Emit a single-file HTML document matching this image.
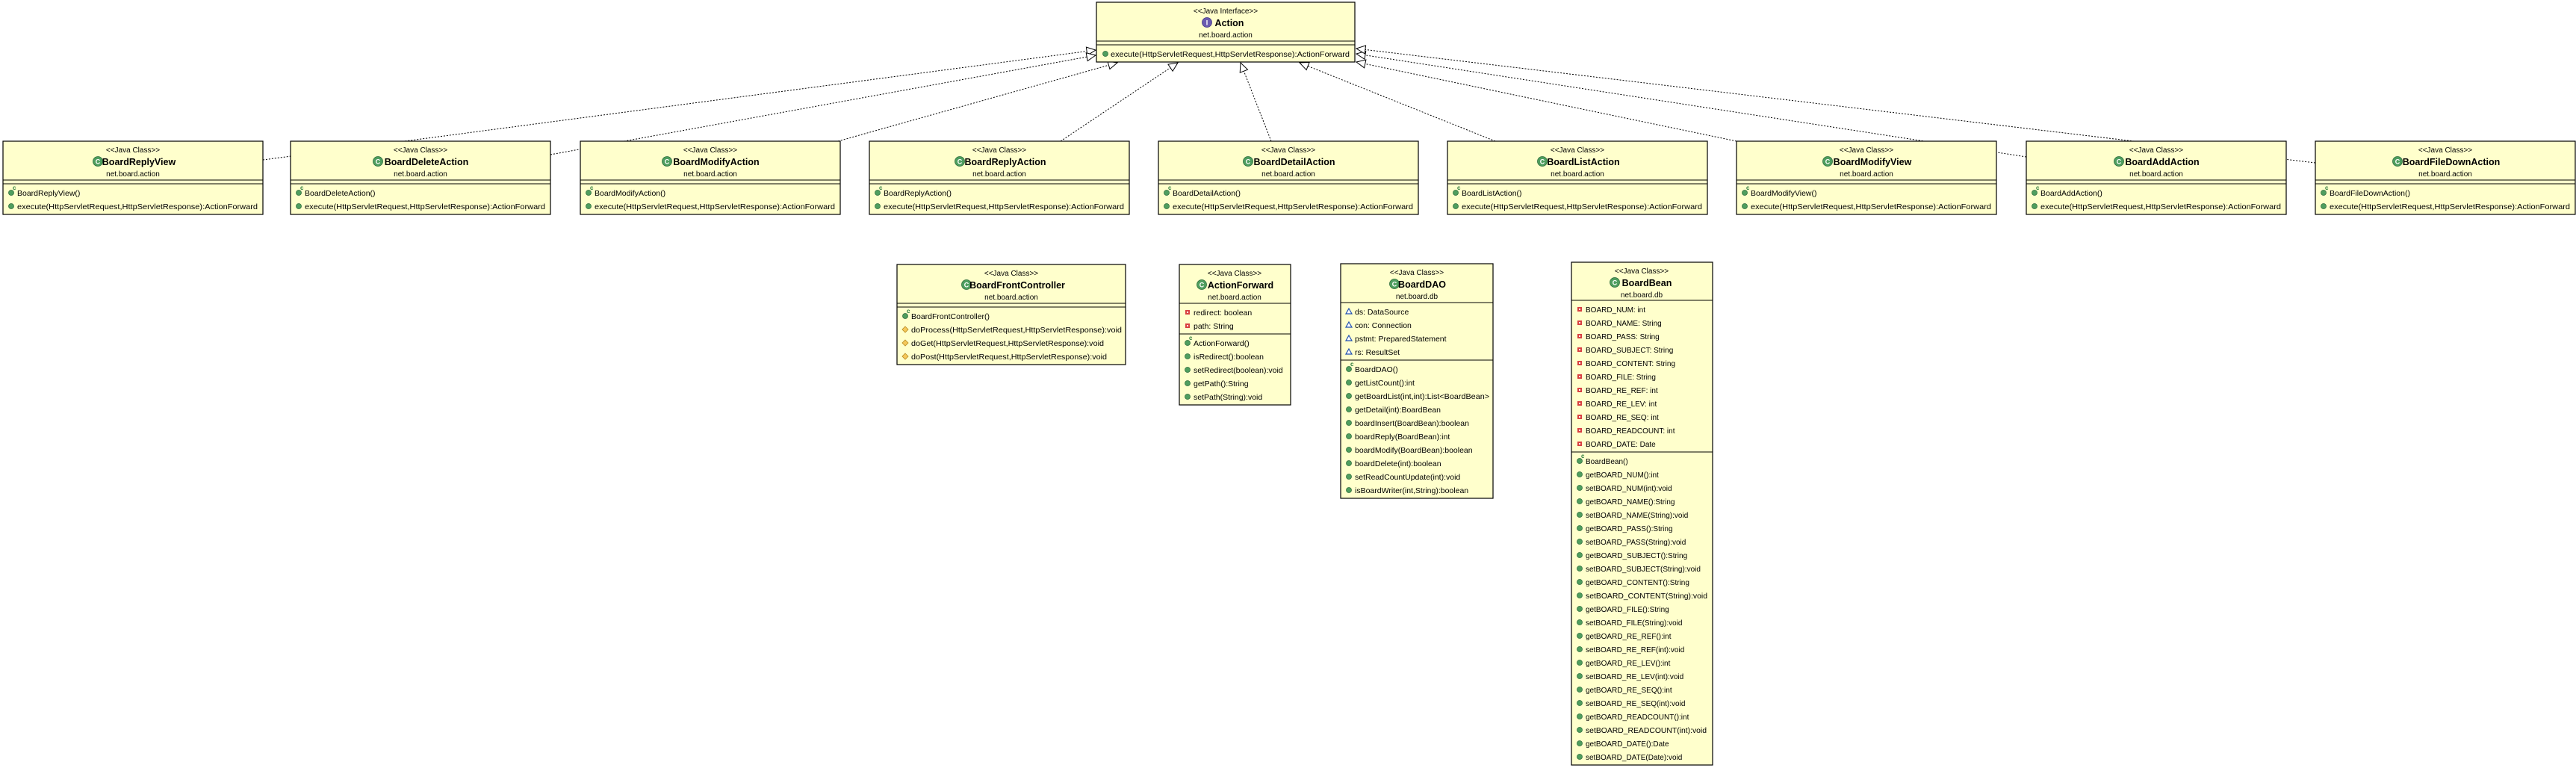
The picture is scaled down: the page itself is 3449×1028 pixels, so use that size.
<!DOCTYPE html>
<html><head><meta charset="utf-8"><style>
html,body{margin:0;padding:0;background:#fff}
svg{display:block}
text{font-family:"Liberation Sans",sans-serif;fill:#000}
.st{font-size:10px}
.nm{font-size:12.5px;font-weight:bold}
.pk{font-size:10px}
.mb{font-size:10.5px}
.bb .mb{font-size:10px}
.ci{font-size:9px;font-weight:bold;fill:#fff}
.cc{font-size:8px;font-weight:bold;fill:#2a7a3a}
.bx{fill:#FFFFCC;stroke:#000;stroke-width:1.2}
.ln{stroke:#000;stroke-width:1}
.dl{stroke:#000;stroke-width:1;stroke-dasharray:2,2;fill:none}
.pu{fill:#4f9e5f;stroke:#2e6e3c;stroke-width:.8}
</style></head><body>
<svg width="3449" height="1028" viewBox="0 0 3449 1028" xmlns="http://www.w3.org/2000/svg">
<defs>
<marker id="tri" markerUnits="userSpaceOnUse" markerWidth="14" markerHeight="14" refX="13" refY="6.5" orient="auto">
<path d="M1,1 L13,6.5 L1,12 Z" fill="#fff" stroke="#000" stroke-width="1"/>
</marker>
</defs>

<line class="dl" x1="352" y1="214" x2="1467" y2="67" marker-end="url(#tri)"/>
<line class="dl" x1="737" y1="207" x2="1467" y2="74" marker-end="url(#tri)"/>
<line class="dl" x1="1122" y1="189" x2="1496" y2="84" marker-end="url(#tri)"/>
<line class="dl" x1="1420" y1="189" x2="1577" y2="84" marker-end="url(#tri)"/>
<line class="dl" x1="1702" y1="189" x2="1661" y2="84" marker-end="url(#tri)"/>
<line class="dl" x1="2002" y1="189" x2="1740" y2="84" marker-end="url(#tri)"/>
<line class="dl" x1="2325" y1="189" x2="1816" y2="83" marker-end="url(#tri)"/>
<line class="dl" x1="2713" y1="210" x2="1816" y2="72" marker-end="url(#tri)"/>
<line class="dl" x1="3100" y1="218" x2="1816" y2="65" marker-end="url(#tri)"/>

<g transform="translate(1468,3)">
<rect class="bx" x="0" y="0" width="346" height="80"/>
<text class="st" x="173" y="15" text-anchor="middle">&lt;&lt;Java Interface&gt;&gt;</text>
<circle cx="148" cy="27" r="6.5" fill="#6a5bb0" stroke="#463a88" stroke-width=".8"/>
<text class="ci" x="148" y="30.5" text-anchor="middle">I</text>
<text class="nm" x="178" y="32" text-anchor="middle">Action</text>
<text class="pk" x="173" y="47" text-anchor="middle">net.board.action</text>
<line class="ln" x1="0" y1="52" x2="346" y2="52"/><line class="ln" x1="0" y1="57" x2="346" y2="57"/>
<circle class="pu" cx="12" cy="69" r="3.5"/>
<text class="mb" x="19" y="73" textLength="320" lengthAdjust="spacingAndGlyphs">execute(HttpServletRequest,HttpServletResponse):ActionForward</text>
</g>

<g transform="translate(4,189)">
<rect class="bx" width="348" height="98"/>
<text class="st" x="174" y="15" text-anchor="middle">&lt;&lt;Java Class&gt;&gt;</text>
<circle cx="127" cy="27" r="6.5" class="pu"/><text class="ci" x="127" y="30.5" text-anchor="middle">C</text>
<text class="nm" x="182" y="32" text-anchor="middle">BoardReplyView</text>
<text class="pk" x="174" y="47" text-anchor="middle">net.board.action</text>
<line class="ln" x1="0" y1="52" x2="348" y2="52"/><line class="ln" x1="0" y1="57" x2="348" y2="57"/>
<circle class="pu" cx="11" cy="69" r="3.5"/><text class="cc" x="13" y="65">c</text><text class="mb" x="19" y="73">BoardReplyView()</text>
<circle class="pu" cx="11" cy="87" r="3.5"/><text class="mb" x="19" y="91" textLength="322" lengthAdjust="spacingAndGlyphs">execute(HttpServletRequest,HttpServletResponse):ActionForward</text>
</g>
<g transform="translate(389,189)">
<rect class="bx" width="348" height="98"/>
<text class="st" x="174" y="15" text-anchor="middle">&lt;&lt;Java Class&gt;&gt;</text>
<circle cx="117" cy="27" r="6.5" class="pu"/><text class="ci" x="117" y="30.5" text-anchor="middle">C</text>
<text class="nm" x="182" y="32" text-anchor="middle">BoardDeleteAction</text>
<text class="pk" x="174" y="47" text-anchor="middle">net.board.action</text>
<line class="ln" x1="0" y1="52" x2="348" y2="52"/><line class="ln" x1="0" y1="57" x2="348" y2="57"/>
<circle class="pu" cx="11" cy="69" r="3.5"/><text class="cc" x="13" y="65">c</text><text class="mb" x="19" y="73">BoardDeleteAction()</text>
<circle class="pu" cx="11" cy="87" r="3.5"/><text class="mb" x="19" y="91" textLength="322" lengthAdjust="spacingAndGlyphs">execute(HttpServletRequest,HttpServletResponse):ActionForward</text>
</g>
<g transform="translate(777,189)">
<rect class="bx" width="348" height="98"/>
<text class="st" x="174" y="15" text-anchor="middle">&lt;&lt;Java Class&gt;&gt;</text>
<circle cx="116" cy="27" r="6.5" class="pu"/><text class="ci" x="116" y="30.5" text-anchor="middle">C</text>
<text class="nm" x="182" y="32" text-anchor="middle">BoardModifyAction</text>
<text class="pk" x="174" y="47" text-anchor="middle">net.board.action</text>
<line class="ln" x1="0" y1="52" x2="348" y2="52"/><line class="ln" x1="0" y1="57" x2="348" y2="57"/>
<circle class="pu" cx="11" cy="69" r="3.5"/><text class="cc" x="13" y="65">c</text><text class="mb" x="19" y="73">BoardModifyAction()</text>
<circle class="pu" cx="11" cy="87" r="3.5"/><text class="mb" x="19" y="91" textLength="322" lengthAdjust="spacingAndGlyphs">execute(HttpServletRequest,HttpServletResponse):ActionForward</text>
</g>
<g transform="translate(1164,189)">
<rect class="bx" width="348" height="98"/>
<text class="st" x="174" y="15" text-anchor="middle">&lt;&lt;Java Class&gt;&gt;</text>
<circle cx="121" cy="27" r="6.5" class="pu"/><text class="ci" x="121" y="30.5" text-anchor="middle">C</text>
<text class="nm" x="182" y="32" text-anchor="middle">BoardReplyAction</text>
<text class="pk" x="174" y="47" text-anchor="middle">net.board.action</text>
<line class="ln" x1="0" y1="52" x2="348" y2="52"/><line class="ln" x1="0" y1="57" x2="348" y2="57"/>
<circle class="pu" cx="11" cy="69" r="3.5"/><text class="cc" x="13" y="65">c</text><text class="mb" x="19" y="73">BoardReplyAction()</text>
<circle class="pu" cx="11" cy="87" r="3.5"/><text class="mb" x="19" y="91" textLength="322" lengthAdjust="spacingAndGlyphs">execute(HttpServletRequest,HttpServletResponse):ActionForward</text>
</g>
<g transform="translate(1551,189)">
<rect class="bx" width="348" height="98"/>
<text class="st" x="174" y="15" text-anchor="middle">&lt;&lt;Java Class&gt;&gt;</text>
<circle cx="120" cy="27" r="6.5" class="pu"/><text class="ci" x="120" y="30.5" text-anchor="middle">C</text>
<text class="nm" x="182" y="32" text-anchor="middle">BoardDetailAction</text>
<text class="pk" x="174" y="47" text-anchor="middle">net.board.action</text>
<line class="ln" x1="0" y1="52" x2="348" y2="52"/><line class="ln" x1="0" y1="57" x2="348" y2="57"/>
<circle class="pu" cx="11" cy="69" r="3.5"/><text class="cc" x="13" y="65">c</text><text class="mb" x="19" y="73">BoardDetailAction()</text>
<circle class="pu" cx="11" cy="87" r="3.5"/><text class="mb" x="19" y="91" textLength="322" lengthAdjust="spacingAndGlyphs">execute(HttpServletRequest,HttpServletResponse):ActionForward</text>
</g>
<g transform="translate(1938,189)">
<rect class="bx" width="348" height="98"/>
<text class="st" x="174" y="15" text-anchor="middle">&lt;&lt;Java Class&gt;&gt;</text>
<circle cx="127" cy="27" r="6.5" class="pu"/><text class="ci" x="127" y="30.5" text-anchor="middle">C</text>
<text class="nm" x="182" y="32" text-anchor="middle">BoardListAction</text>
<text class="pk" x="174" y="47" text-anchor="middle">net.board.action</text>
<line class="ln" x1="0" y1="52" x2="348" y2="52"/><line class="ln" x1="0" y1="57" x2="348" y2="57"/>
<circle class="pu" cx="11" cy="69" r="3.5"/><text class="cc" x="13" y="65">c</text><text class="mb" x="19" y="73">BoardListAction()</text>
<circle class="pu" cx="11" cy="87" r="3.5"/><text class="mb" x="19" y="91" textLength="322" lengthAdjust="spacingAndGlyphs">execute(HttpServletRequest,HttpServletResponse):ActionForward</text>
</g>
<g transform="translate(2325,189)">
<rect class="bx" width="348" height="98"/>
<text class="st" x="174" y="15" text-anchor="middle">&lt;&lt;Java Class&gt;&gt;</text>
<circle cx="122" cy="27" r="6.5" class="pu"/><text class="ci" x="122" y="30.5" text-anchor="middle">C</text>
<text class="nm" x="182" y="32" text-anchor="middle">BoardModifyView</text>
<text class="pk" x="174" y="47" text-anchor="middle">net.board.action</text>
<line class="ln" x1="0" y1="52" x2="348" y2="52"/><line class="ln" x1="0" y1="57" x2="348" y2="57"/>
<circle class="pu" cx="11" cy="69" r="3.5"/><text class="cc" x="13" y="65">c</text><text class="mb" x="19" y="73">BoardModifyView()</text>
<circle class="pu" cx="11" cy="87" r="3.5"/><text class="mb" x="19" y="91" textLength="322" lengthAdjust="spacingAndGlyphs">execute(HttpServletRequest,HttpServletResponse):ActionForward</text>
</g>
<g transform="translate(2713,189)">
<rect class="bx" width="348" height="98"/>
<text class="st" x="174" y="15" text-anchor="middle">&lt;&lt;Java Class&gt;&gt;</text>
<circle cx="124" cy="27" r="6.5" class="pu"/><text class="ci" x="124" y="30.5" text-anchor="middle">C</text>
<text class="nm" x="182" y="32" text-anchor="middle">BoardAddAction</text>
<text class="pk" x="174" y="47" text-anchor="middle">net.board.action</text>
<line class="ln" x1="0" y1="52" x2="348" y2="52"/><line class="ln" x1="0" y1="57" x2="348" y2="57"/>
<circle class="pu" cx="11" cy="69" r="3.5"/><text class="cc" x="13" y="65">c</text><text class="mb" x="19" y="73">BoardAddAction()</text>
<circle class="pu" cx="11" cy="87" r="3.5"/><text class="mb" x="19" y="91" textLength="322" lengthAdjust="spacingAndGlyphs">execute(HttpServletRequest,HttpServletResponse):ActionForward</text>
</g>
<g transform="translate(3100,189)">
<rect class="bx" width="348" height="98"/>
<text class="st" x="174" y="15" text-anchor="middle">&lt;&lt;Java Class&gt;&gt;</text>
<circle cx="110" cy="27" r="6.5" class="pu"/><text class="ci" x="110" y="30.5" text-anchor="middle">C</text>
<text class="nm" x="182" y="32" text-anchor="middle">BoardFileDownAction</text>
<text class="pk" x="174" y="47" text-anchor="middle">net.board.action</text>
<line class="ln" x1="0" y1="52" x2="348" y2="52"/><line class="ln" x1="0" y1="57" x2="348" y2="57"/>
<circle class="pu" cx="11" cy="69" r="3.5"/><text class="cc" x="13" y="65">c</text><text class="mb" x="19" y="73">BoardFileDownAction()</text>
<circle class="pu" cx="11" cy="87" r="3.5"/><text class="mb" x="19" y="91" textLength="322" lengthAdjust="spacingAndGlyphs">execute(HttpServletRequest,HttpServletResponse):ActionForward</text>
</g>

<g transform="translate(1201,354)">
<rect class="bx" width="306" height="134"/>
<text class="st" x="153" y="15" text-anchor="middle">&lt;&lt;Java Class&gt;&gt;</text>
<circle cx="93" cy="27" r="6.5" class="pu"/><text class="ci" x="93" y="30.5" text-anchor="middle">C</text>
<text class="nm" x="161" y="32" text-anchor="middle">BoardFrontController</text>
<text class="pk" x="153" y="47" text-anchor="middle">net.board.action</text>
<line class="ln" x1="0" y1="52" x2="306" y2="52"/><line class="ln" x1="0" y1="57" x2="306" y2="57"/>
<circle class="pu" cx="11" cy="69" r="3.5"/><text class="cc" x="13" y="65">c</text><text class="mb" x="19" y="73">BoardFrontController()</text>
<path d="M11,83 L15,87 L11,91 L7,87 Z" fill="#f5c85a" stroke="#b88a20" stroke-width=".8"/><text class="mb" x="19" y="91" textLength="282" lengthAdjust="spacingAndGlyphs">doProcess(HttpServletRequest,HttpServletResponse):void</text>
<path d="M11,101 L15,105 L11,109 L7,105 Z" fill="#f5c85a" stroke="#b88a20" stroke-width=".8"/><text class="mb" x="19" y="109" textLength="258" lengthAdjust="spacingAndGlyphs">doGet(HttpServletRequest,HttpServletResponse):void</text>
<path d="M11,119 L15,123 L11,127 L7,123 Z" fill="#f5c85a" stroke="#b88a20" stroke-width=".8"/><text class="mb" x="19" y="127" textLength="262" lengthAdjust="spacingAndGlyphs">doPost(HttpServletRequest,HttpServletResponse):void</text>
</g>

<g transform="translate(1579,354)">
<rect class="bx" width="149" height="188"/>
<text class="st" x="74" y="15" text-anchor="middle">&lt;&lt;Java Class&gt;&gt;</text>
<circle cx="30" cy="27" r="6.5" class="pu"/><text class="ci" x="30" y="30.5" text-anchor="middle">C</text>
<text class="nm" x="82" y="32" text-anchor="middle">ActionForward</text>
<text class="pk" x="74" y="47" text-anchor="middle">net.board.action</text>
<line class="ln" x1="0" y1="52" x2="149" y2="52"/>
<rect x="8" y="61" width="6" height="6" fill="#d84040"/><rect x="10" y="63" width="2" height="2" fill="#fff"/><text class="mb" x="19" y="68">redirect: boolean</text>
<rect x="8" y="79" width="6" height="6" fill="#d84040"/><rect x="10" y="81" width="2" height="2" fill="#fff"/><text class="mb" x="19" y="86">path: String</text>
<line class="ln" x1="0" y1="93" x2="149" y2="93"/>
<circle class="pu" cx="11" cy="105" r="3.5"/><text class="cc" x="13" y="101">c</text><text class="mb" x="19" y="109">ActionForward()</text>
<circle class="pu" cx="11" cy="123" r="3.5"/><text class="mb" x="19" y="127">isRedirect():boolean</text>
<circle class="pu" cx="11" cy="141" r="3.5"/><text class="mb" x="19" y="145">setRedirect(boolean):void</text>
<circle class="pu" cx="11" cy="159" r="3.5"/><text class="mb" x="19" y="163">getPath():String</text>
<circle class="pu" cx="11" cy="177" r="3.5"/><text class="mb" x="19" y="181">setPath(String):void</text>
</g>

<g transform="translate(1795,353)">
<rect class="bx" width="204" height="314"/>
<text class="st" x="102" y="15" text-anchor="middle">&lt;&lt;Java Class&gt;&gt;</text>
<circle cx="72" cy="27" r="6.5" class="pu"/><text class="ci" x="72" y="30.5" text-anchor="middle">C</text>
<text class="nm" x="109" y="32" text-anchor="middle">BoardDAO</text>
<text class="pk" x="102" y="47" text-anchor="middle">net.board.db</text>
<line class="ln" x1="0" y1="52" x2="204" y2="52"/>
<path d="M11,60 L15,67 L7,67 Z" fill="#fff" stroke="#2050b0" stroke-width="1.2"/><text class="mb" x="19" y="68">ds: DataSource</text>
<path d="M11,78 L15,85 L7,85 Z" fill="#fff" stroke="#2050b0" stroke-width="1.2"/><text class="mb" x="19" y="86">con: Connection</text>
<path d="M11,96 L15,103 L7,103 Z" fill="#fff" stroke="#2050b0" stroke-width="1.2"/><text class="mb" x="19" y="104">pstmt: PreparedStatement</text>
<path d="M11,114 L15,121 L7,121 Z" fill="#fff" stroke="#2050b0" stroke-width="1.2"/><text class="mb" x="19" y="122">rs: ResultSet</text>
<line class="ln" x1="0" y1="129" x2="204" y2="129"/>
<circle class="pu" cx="11" cy="141" r="3.5"/><text class="cc" x="13" y="137">c</text><text class="mb" x="19" y="145">BoardDAO()</text>
<circle class="pu" cx="11" cy="159" r="3.5"/><text class="mb" x="19" y="163">getListCount():int</text>
<circle class="pu" cx="11" cy="177" r="3.5"/><text class="mb" x="19" y="181" textLength="180" lengthAdjust="spacingAndGlyphs">getBoardList(int,int):List&lt;BoardBean&gt;</text>
<circle class="pu" cx="11" cy="195" r="3.5"/><text class="mb" x="19" y="199">getDetail(int):BoardBean</text>
<circle class="pu" cx="11" cy="213" r="3.5"/><text class="mb" x="19" y="217">boardInsert(BoardBean):boolean</text>
<circle class="pu" cx="11" cy="231" r="3.5"/><text class="mb" x="19" y="235">boardReply(BoardBean):int</text>
<circle class="pu" cx="11" cy="249" r="3.5"/><text class="mb" x="19" y="253">boardModify(BoardBean):boolean</text>
<circle class="pu" cx="11" cy="267" r="3.5"/><text class="mb" x="19" y="271">boardDelete(int):boolean</text>
<circle class="pu" cx="11" cy="285" r="3.5"/><text class="mb" x="19" y="289">setReadCountUpdate(int):void</text>
<circle class="pu" cx="11" cy="303" r="3.5"/><text class="mb" x="19" y="307">isBoardWriter(int,String):boolean</text>
</g>

<g class="bb" transform="translate(2104,351)">
<rect class="bx" width="189" height="673"/>
<text class="st" x="94" y="15" text-anchor="middle">&lt;&lt;Java Class&gt;&gt;</text>
<circle cx="58" cy="27" r="6.5" class="pu"/><text class="ci" x="58" y="30.5" text-anchor="middle">C</text>
<text class="nm" x="101" y="32" text-anchor="middle">BoardBean</text>
<text class="pk" x="94" y="47" text-anchor="middle">net.board.db</text>
<line class="ln" x1="0" y1="51" x2="189" y2="51"/>
<rect x="8" y="60" width="6" height="6" fill="#d84040"/><rect x="10" y="62" width="2" height="2" fill="#fff"/><text class="mb" x="19" y="67">BOARD_NUM: int</text>
<rect x="8" y="78" width="6" height="6" fill="#d84040"/><rect x="10" y="80" width="2" height="2" fill="#fff"/><text class="mb" x="19" y="85">BOARD_NAME: String</text>
<rect x="8" y="96" width="6" height="6" fill="#d84040"/><rect x="10" y="98" width="2" height="2" fill="#fff"/><text class="mb" x="19" y="103">BOARD_PASS: String</text>
<rect x="8" y="114" width="6" height="6" fill="#d84040"/><rect x="10" y="116" width="2" height="2" fill="#fff"/><text class="mb" x="19" y="121">BOARD_SUBJECT: String</text>
<rect x="8" y="132" width="6" height="6" fill="#d84040"/><rect x="10" y="134" width="2" height="2" fill="#fff"/><text class="mb" x="19" y="139">BOARD_CONTENT: String</text>
<rect x="8" y="150" width="6" height="6" fill="#d84040"/><rect x="10" y="152" width="2" height="2" fill="#fff"/><text class="mb" x="19" y="157">BOARD_FILE: String</text>
<rect x="8" y="168" width="6" height="6" fill="#d84040"/><rect x="10" y="170" width="2" height="2" fill="#fff"/><text class="mb" x="19" y="175">BOARD_RE_REF: int</text>
<rect x="8" y="186" width="6" height="6" fill="#d84040"/><rect x="10" y="188" width="2" height="2" fill="#fff"/><text class="mb" x="19" y="193">BOARD_RE_LEV: int</text>
<rect x="8" y="204" width="6" height="6" fill="#d84040"/><rect x="10" y="206" width="2" height="2" fill="#fff"/><text class="mb" x="19" y="211">BOARD_RE_SEQ: int</text>
<rect x="8" y="222" width="6" height="6" fill="#d84040"/><rect x="10" y="224" width="2" height="2" fill="#fff"/><text class="mb" x="19" y="229">BOARD_READCOUNT: int</text>
<rect x="8" y="240" width="6" height="6" fill="#d84040"/><rect x="10" y="242" width="2" height="2" fill="#fff"/><text class="mb" x="19" y="247">BOARD_DATE: Date</text>
<line class="ln" x1="0" y1="254" x2="189" y2="254"/>
<circle class="pu" cx="11" cy="266" r="3.5"/><text class="cc" x="13" y="262">c</text><text class="mb" x="19" y="270">BoardBean()</text>
<circle class="pu" cx="11" cy="284" r="3.5"/><text class="mb" x="19" y="288">getBOARD_NUM():int</text>
<circle class="pu" cx="11" cy="302" r="3.5"/><text class="mb" x="19" y="306">setBOARD_NUM(int):void</text>
<circle class="pu" cx="11" cy="320" r="3.5"/><text class="mb" x="19" y="324">getBOARD_NAME():String</text>
<circle class="pu" cx="11" cy="338" r="3.5"/><text class="mb" x="19" y="342">setBOARD_NAME(String):void</text>
<circle class="pu" cx="11" cy="356" r="3.5"/><text class="mb" x="19" y="360">getBOARD_PASS():String</text>
<circle class="pu" cx="11" cy="374" r="3.5"/><text class="mb" x="19" y="378">setBOARD_PASS(String):void</text>
<circle class="pu" cx="11" cy="392" r="3.5"/><text class="mb" x="19" y="396">getBOARD_SUBJECT():String</text>
<circle class="pu" cx="11" cy="410" r="3.5"/><text class="mb" x="19" y="414">setBOARD_SUBJECT(String):void</text>
<circle class="pu" cx="11" cy="428" r="3.5"/><text class="mb" x="19" y="432">getBOARD_CONTENT():String</text>
<circle class="pu" cx="11" cy="446" r="3.5"/><text class="mb" x="19" y="450" textLength="163" lengthAdjust="spacingAndGlyphs">setBOARD_CONTENT(String):void</text>
<circle class="pu" cx="11" cy="464" r="3.5"/><text class="mb" x="19" y="468">getBOARD_FILE():String</text>
<circle class="pu" cx="11" cy="482" r="3.5"/><text class="mb" x="19" y="486">setBOARD_FILE(String):void</text>
<circle class="pu" cx="11" cy="500" r="3.5"/><text class="mb" x="19" y="504">getBOARD_RE_REF():int</text>
<circle class="pu" cx="11" cy="518" r="3.5"/><text class="mb" x="19" y="522">setBOARD_RE_REF(int):void</text>
<circle class="pu" cx="11" cy="536" r="3.5"/><text class="mb" x="19" y="540">getBOARD_RE_LEV():int</text>
<circle class="pu" cx="11" cy="554" r="3.5"/><text class="mb" x="19" y="558">setBOARD_RE_LEV(int):void</text>
<circle class="pu" cx="11" cy="572" r="3.5"/><text class="mb" x="19" y="576">getBOARD_RE_SEQ():int</text>
<circle class="pu" cx="11" cy="590" r="3.5"/><text class="mb" x="19" y="594">setBOARD_RE_SEQ(int):void</text>
<circle class="pu" cx="11" cy="608" r="3.5"/><text class="mb" x="19" y="612">getBOARD_READCOUNT():int</text>
<circle class="pu" cx="11" cy="626" r="3.5"/><text class="mb" x="19" y="630" textLength="162" lengthAdjust="spacingAndGlyphs">setBOARD_READCOUNT(int):void</text>
<circle class="pu" cx="11" cy="644" r="3.5"/><text class="mb" x="19" y="648">getBOARD_DATE():Date</text>
<circle class="pu" cx="11" cy="662" r="3.5"/><text class="mb" x="19" y="666">setBOARD_DATE(Date):void</text>
</g>
</svg>
</body></html>
